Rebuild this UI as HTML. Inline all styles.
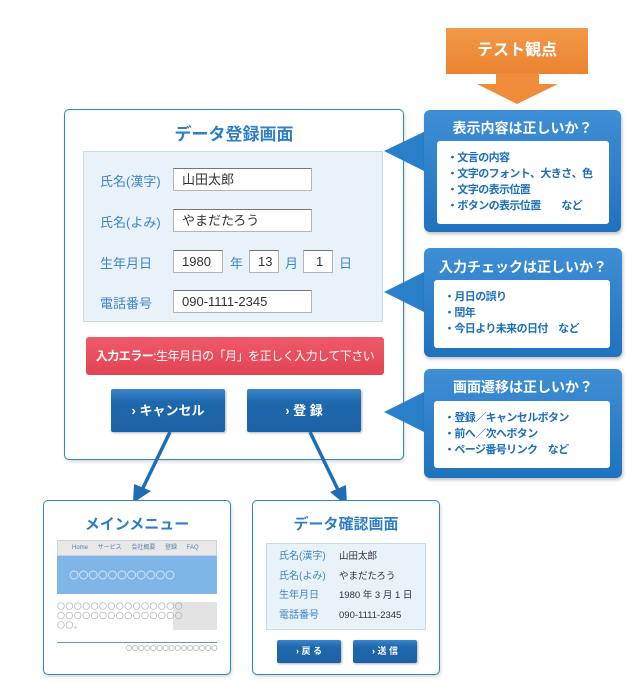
<!DOCTYPE html>
<html><head><meta charset="utf-8"><style>
*{margin:0;padding:0;box-sizing:border-box}
body{width:641px;height:692px;background:#fff;position:relative;overflow:hidden;font-family:"Liberation Sans","Noto Sans CJK JP",sans-serif}
.a{position:absolute}
.box{position:absolute;border:1.5px solid #2a88cc;border-radius:5px;background:#fff;box-shadow:1px 2px 3px rgba(0,0,0,.15)}
.t{position:absolute;color:#2f7fc6;font-weight:bold;text-align:center;white-space:nowrap}
.lbl{position:absolute;color:#3d86c6;font-size:13px;white-space:nowrap}
.in{position:absolute;background:#fff;border:1px solid #b5b5b5;border-top-color:#777;font-size:13px;color:#333;height:23px;line-height:21px;padding-left:8px;white-space:nowrap}
.btn{position:absolute;background:linear-gradient(#3a86cc,#1f68ad 30%,#1c62a6);color:#fff;font-weight:bold;text-align:center;border-radius:2px;box-shadow:1px 1px 2px rgba(0,0,0,.3);white-space:nowrap}
.cal{position:absolute;background:linear-gradient(#3f8fd6,#1f72bd);border-radius:6px;box-shadow:1px 2px 3px rgba(0,0,0,.25)}
.ct{position:absolute;left:0;right:0;color:#fff;font-weight:bold;font-size:14px;text-align:center}
.ci{position:absolute;background:#fff;border-radius:3px;color:#1e6fba;font-size:11px;line-height:16px;padding:9px 0 0 10px;font-weight:bold;white-space:nowrap;letter-spacing:-0.6px}
</style></head><body>
<div class="a" style="left:446px;top:28px;width:142px;height:46px;background:linear-gradient(#f29a48,#ea8330);color:#fff;font-weight:bold;font-size:16px;text-align:center;line-height:46px">テスト観点</div>

<div class="box" style="left:64px;top:109px;width:340px;height:351px"></div>
<div class="t" style="left:64px;top:120px;width:340px;font-size:17px">データ登録画面</div>
<div class="a" style="left:83px;top:151px;width:300px;height:171px;background:#e9f1f9;border:1px solid #c6dbee"></div>
<div class="lbl" style="left:100px;top:171px">氏名(漢字)</div>
<div class="lbl" style="left:100px;top:212px">氏名(よみ)</div>
<div class="lbl" style="left:100px;top:253px">生年月日</div>
<div class="lbl" style="left:100px;top:293px">電話番号</div>
<div class="in" style="left:173px;top:168px;width:139px">山田太郎</div>
<div class="in" style="left:173px;top:209px;width:139px">やまだたろう</div>
<div class="in" style="left:173px;top:250px;width:50px">1980</div>
<div class="lbl" style="left:230px;top:253px">年</div>
<div class="in" style="left:249px;top:250px;width:30px">13</div>
<div class="lbl" style="left:285px;top:253px">月</div>
<div class="in" style="left:303px;top:250px;width:30px;padding-left:12px">1</div>
<div class="lbl" style="left:339px;top:253px">日</div>
<div class="in" style="left:173px;top:290px;width:139px">090-1111-2345</div>
<div class="a" style="left:86px;top:337px;width:298px;height:38px;background:linear-gradient(#ef5a68,#e24454);border-radius:3px;color:#fff;font-size:12px;line-height:38px;text-align:center;white-space:nowrap;letter-spacing:-0.5px"><b>入力エラー</b>:生年月日の「月」を正しく入力して下さい</div>
<div class="btn" style="left:111px;top:389px;width:114px;height:43px;line-height:43px;font-size:13px">› キャンセル</div>
<div class="btn" style="left:247px;top:389px;width:114px;height:43px;line-height:43px;font-size:13px">› 登 録</div>

<svg class="a" style="left:0;top:0" width="641" height="692">
<polygon points="384,151 432,128 432,175" fill="#2a80c8"/>
<polygon points="384,292 432,268 432,316" fill="#2a80c8"/>
<polygon points="384,412 432,388 432,436" fill="#2a80c8"/>
<line x1="170" y1="432" x2="141" y2="492" stroke="#1f6db5" stroke-width="3.5"/>
<polygon points="133,503 134,484 151,491" fill="#1f6db5"/>
<line x1="310" y1="432" x2="340" y2="494" stroke="#1f6db5" stroke-width="3.5"/>
<polygon points="347,506 330,492 346,485" fill="#1f6db5"/>
<rect x="496" y="73" width="43" height="12" fill="#ef8c3a"/>
<polygon points="477,84 558,84 517,104" fill="#ef8c3a"/>
</svg>

<div class="cal" style="left:424px;top:110px;width:197px;height:122px"><div class="ct" style="top:8px">表示内容は正しいか？</div></div>
<div class="ci" style="left:437px;top:141px;width:172px;height:83px">・文言の内容<br>・文字のフォント、大きさ、色<br>・文字の表示位置<br>・ボタンの表示位置　　など</div>
<div class="cal" style="left:424px;top:248px;width:198px;height:109px"><div class="ct" style="top:9px">入力チェックは正しいか？</div></div>
<div class="ci" style="left:434px;top:280px;width:176px;height:68px">・月日の誤り<br>・閏年<br>・今日より未来の日付　など</div>
<div class="cal" style="left:424px;top:369px;width:198px;height:109px"><div class="ct" style="top:8px">画面遷移は正しいか？</div></div>
<div class="ci" style="left:434px;top:401px;width:176px;height:67px">・登録／キャンセルボタン<br>・前へ／次へボタン<br>・ページ番号リンク　など</div>

<div class="box" style="left:43px;top:500px;width:188px;height:175px"></div>
<div class="t" style="left:43px;top:513px;width:188px;font-size:15px">メインメニュー</div>
<div class="a" style="left:57px;top:540px;width:160px;height:16px;background:#e8e8e8;border:1px solid #c8d4e0;font-size:6px;color:#5a7fa8;line-height:14px;padding-left:14px;word-spacing:8px;white-space:nowrap">Home サービス 会社概要 登録 FAQ</div>
<div class="a" style="left:57px;top:556px;width:160px;height:38px;background:#80b5e7"></div>
<div class="a" style="left:173px;top:602px;width:44px;height:28px;background:#e3e3e3"></div>
<div class="a" style="left:57px;top:642px;width:160px;height:1px;background:#5a9ad4"></div>
<svg class="a" style="left:0;top:0" width="641" height="692" fill="none">
<g stroke="#d4e6f7" stroke-width="0.9">
<circle cx="74" cy="575" r="4"/><circle cx="83.6" cy="575" r="4"/><circle cx="93.2" cy="575" r="4"/><circle cx="102.8" cy="575" r="4"/><circle cx="112.4" cy="575" r="4"/><circle cx="122" cy="575" r="4"/><circle cx="131.6" cy="575" r="4"/><circle cx="141.2" cy="575" r="4"/><circle cx="150.8" cy="575" r="4"/><circle cx="160.4" cy="575" r="4"/><circle cx="170" cy="575" r="4"/>
</g>
<g stroke="#b0b0b0" stroke-width="0.7">
<g id="r1"><circle cx="61" cy="606" r="3.3"/><circle cx="69.4" cy="606" r="3.3"/><circle cx="77.8" cy="606" r="3.3"/><circle cx="86.2" cy="606" r="3.3"/><circle cx="94.6" cy="606" r="3.3"/><circle cx="103" cy="606" r="3.3"/><circle cx="111.4" cy="606" r="3.3"/><circle cx="119.8" cy="606" r="3.3"/><circle cx="128.2" cy="606" r="3.3"/><circle cx="136.6" cy="606" r="3.3"/><circle cx="145" cy="606" r="3.3"/><circle cx="153.4" cy="606" r="3.3"/><circle cx="161.8" cy="606" r="3.3"/><circle cx="170.2" cy="606" r="3.3"/><circle cx="178.6" cy="606" r="3.3"/></g>
<use href="#r1" y="9.5"/>
<circle cx="61" cy="625" r="3.3"/><circle cx="69.4" cy="625" r="3.3"/><circle cx="75.5" cy="627.5" r="0.8"/>
<g><circle cx="129" cy="648" r="2.6"/><circle cx="135.1" cy="648" r="2.6"/><circle cx="141.2" cy="648" r="2.6"/><circle cx="147.3" cy="648" r="2.6"/><circle cx="153.4" cy="648" r="2.6"/><circle cx="159.5" cy="648" r="2.6"/><circle cx="165.6" cy="648" r="2.6"/><circle cx="171.7" cy="648" r="2.6"/><circle cx="177.8" cy="648" r="2.6"/><circle cx="183.9" cy="648" r="2.6"/><circle cx="190" cy="648" r="2.6"/><circle cx="196.1" cy="648" r="2.6"/><circle cx="202.2" cy="648" r="2.6"/><circle cx="208.3" cy="648" r="2.6"/><circle cx="214.4" cy="648" r="2.6"/></g>
</g>
</svg>

<div class="box" style="left:252px;top:500px;width:188px;height:175px"></div>
<div class="t" style="left:252px;top:513px;width:188px;font-size:15px">データ確認画面</div>
<div class="a" style="left:266px;top:543px;width:160px;height:87px;background:#e9f1f9;border:1px solid #c6dbee"></div>
<div class="lbl" style="left:279px;top:547px;font-size:10px;line-height:19.5px">氏名(漢字)<br>氏名(よみ)<br>生年月日<br>電話番号</div>
<div class="a" style="left:339px;top:547px;font-size:9.5px;line-height:19.5px;color:#333;white-space:nowrap">山田太郎<br>やまだたろう<br>1980 年 3 月 1 日<br>090-1111-2345</div>
<div class="btn" style="left:277px;top:640px;width:64px;height:23px;line-height:23px;font-size:9px">› 戻 る</div>
<div class="btn" style="left:353px;top:640px;width:64px;height:23px;line-height:23px;font-size:9px">› 送 信</div>
</body></html>
